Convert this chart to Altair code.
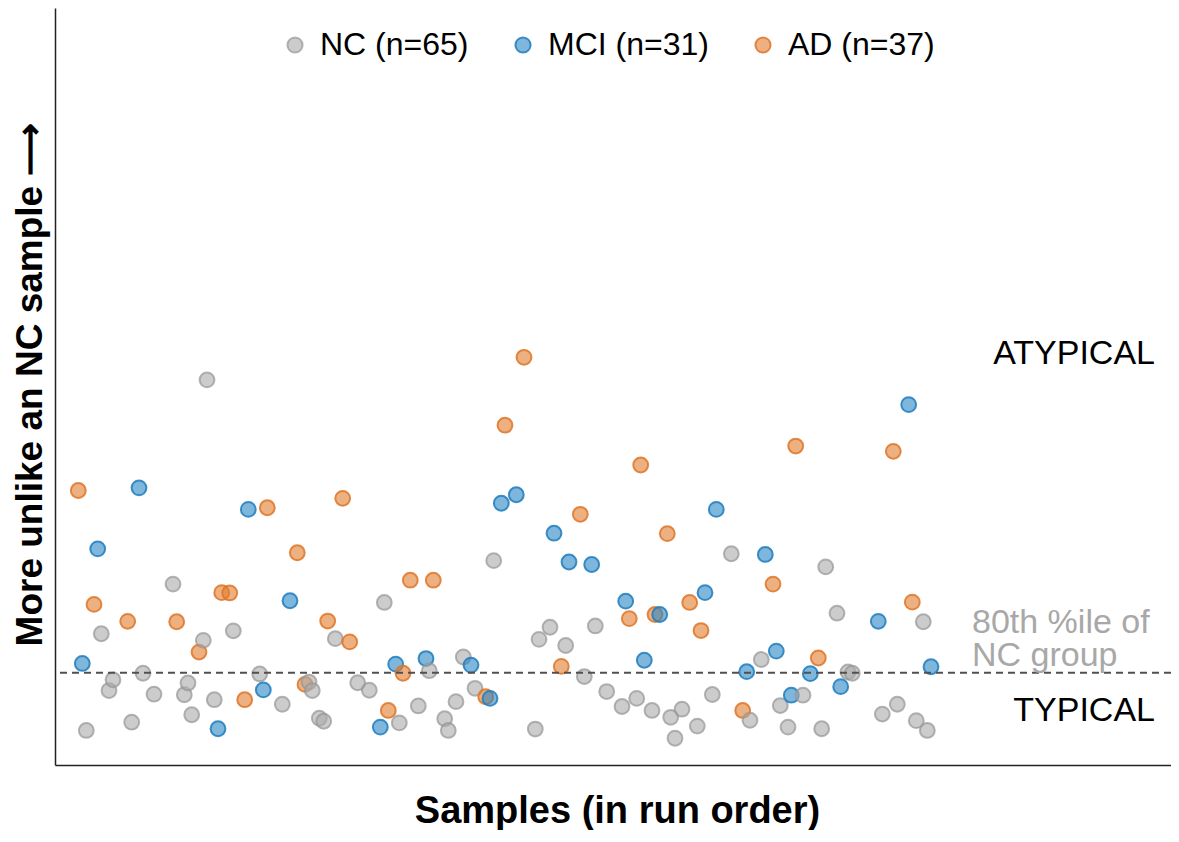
import altair as alt
import pandas as pd

# Groups (legend labels)
groups = ["NC (n=65)", "MCI (n=31)", "AD (n=37)"]
fill_colors = ["rgba(170,170,170,0.6)", "rgba(40,135,195,0.6)", "rgba(225,125,45,0.6)"]
stroke_colors = ["rgba(150,150,150,0.7)", "rgba(30,125,190,0.85)", "rgba(222,118,40,0.85)"]

# Run-order position and atypicality score
nc_x = [3.13, 4.63, 5.40, 5.80, 7.67, 8.80, 9.90, 11.80, 12.93, 13.30, 13.67, 14.83, 15.20,
        15.93, 17.83, 20.47, 22.73, 25.40, 25.73, 26.43, 26.87, 28.03, 30.27, 31.43, 32.93,
        34.43, 36.33, 37.43, 38.97, 39.33, 40.10, 40.83, 42.00, 43.87, 48.03, 48.40, 49.50,
        51.07, 52.93, 54.03, 55.17, 56.70, 58.17, 59.70, 61.57, 62.00, 62.70, 64.23, 65.73,
        67.63, 69.50, 70.63, 72.53, 73.30, 74.80, 76.67, 77.07, 78.20, 79.30, 79.73, 82.73,
        84.23, 86.13, 86.83, 87.23]
nc_y = [0.353, 1.34, 0.76, 0.87, 0.437, 0.937, 0.723, 1.847, 0.717, 0.837, 0.513, 1.273, 3.933,
        0.667, 1.37, 0.93, 0.62, 0.847, 0.76, 0.477, 0.447, 1.29, 0.84, 0.763, 1.66,
        0.43, 0.603, 0.963, 0.473, 0.353, 0.647, 1.103, 0.783, 2.087, 0.367, 1.283, 1.407,
        1.22, 0.903, 1.42, 0.75, 0.597, 0.68, 0.557, 0.487, 0.273, 0.57, 0.397, 0.72,
        2.157, 0.457, 1.077, 0.607, 0.387, 0.713, 0.37, 2.023, 1.55, 0.95, 0.937, 0.52,
        0.62, 0.453, 1.463, 0.353]

mci_x = [2.73, 4.27, 8.40, 16.30, 19.33, 20.83, 23.50, 32.53, 34.07, 37.10, 41.60, 43.50,
         44.63, 46.13, 49.90, 51.40, 53.67, 57.07, 58.93, 60.47, 65.00, 66.13, 69.17, 71.03,
         72.13, 73.63, 75.53, 78.57, 82.33, 85.37, 87.60]
mci_y = [1.037, 2.207, 2.83, 0.37, 2.61, 0.767, 1.677, 0.387, 1.03, 1.087, 1.02, 0.68,
         2.673, 2.76, 2.367, 2.073, 2.047, 1.673, 1.07, 1.537, 1.76, 2.61, 0.953, 2.15,
         1.163, 0.713, 0.933, 0.80, 1.467, 3.68, 1.003]

ad_x = [2.33, 3.90, 7.27, 12.17, 14.40, 16.67, 17.47, 18.97, 21.23, 24.23, 25.00, 27.27,
        28.77, 29.47, 33.33, 34.80, 35.53, 37.83, 43.07, 45.00, 46.90, 50.63, 52.53, 57.43,
        58.57, 60.00, 61.23, 63.47, 64.60, 68.77, 71.80, 74.07, 76.33, 83.83, 85.73]
ad_y = [2.803, 1.64, 1.467, 1.463, 1.153, 1.76, 1.757, 0.667, 2.627, 2.167, 0.823, 1.47,
        2.723, 1.257, 0.557, 0.937, 1.887, 1.887, 0.697, 3.47, 4.163, 1.007, 2.56, 1.495,
        3.063, 1.537, 2.363, 1.66, 1.373, 0.557, 1.847, 3.257, 1.093, 3.203, 1.663]

threshold = [0.943]

ann_text = ["ATYPICAL", "TYPICAL"]
ann_x = [110.0, 110.0]
ann_y = [4.2, 0.55]

pct_text = ["80th %ile of", "NC group"]
pct_x = [91.7, 91.7]
pct_y = [1.45, 1.11]

X_DOMAIN = [0, 111.6]
Y_DOMAIN = [0, 7.73]
FONT = "Liberation Sans"

df = pd.concat([
    pd.DataFrame({"run": nc_x, "score": nc_y, "group": groups[0]}),
    pd.DataFrame({"run": mci_x, "score": mci_y, "group": groups[1]}),
    pd.DataFrame({"run": ad_x, "score": ad_y, "group": groups[2]}),
]).sort_values("run").reset_index(drop=True)
df["order"] = range(len(df))

xs = alt.Scale(domain=X_DOMAIN, nice=False, zero=False)
ys = alt.Scale(domain=Y_DOMAIN, nice=False, zero=False)

legend_cfg = dict(
    title=None, orient="none", direction="horizontal", legendX=224, legendY=21,
    labelFontSize=32, labelFont=FONT, labelColor="black", labelOffset=9, labelLimit=400,
    symbolSize=230, symbolStrokeWidth=2, columnPadding=38, padding=0,
)

points = alt.Chart(df).mark_point(filled=True, size=220, strokeWidth=2, opacity=1).encode(
    x=alt.X("run:Q", scale=xs,
            axis=alt.Axis(title="Samples (in run order)", labels=False, ticks=False, grid=False,
                          domainColor="#222222", domainWidth=1.5,
                          titleFont=FONT, titleFontSize=38, titleFontWeight="bold",
                          titleColor="black", titleBaseline="alphabetic", titleY=57,
                          titleX=562, titleAlign="center")),
    y=alt.Y("score:Q", scale=ys,
            axis=alt.Axis(title="More unlike an NC sample \u27f6", labels=False, ticks=False,
                          grid=False, domainColor="#222222", domainWidth=1.5,
                          titleFont=FONT, titleFontSize=37, titleFontWeight="bold",
                          titleColor="black", titleBaseline="alphabetic", titleX=-14,
                          titleY=376)),
    fill=alt.Fill("group:N", scale=alt.Scale(domain=groups, range=fill_colors),
                  legend=alt.Legend(**legend_cfg)),
    stroke=alt.Stroke("group:N", scale=alt.Scale(domain=groups, range=stroke_colors),
                      legend=alt.Legend(**legend_cfg)),
    order="order:Q",
)

rule = alt.Chart(pd.DataFrame({"t": threshold})).mark_rule(
    color="#505050", strokeWidth=2, strokeDash=[7, 5]
).encode(y=alt.Y("t:Q", scale=ys))

ann = alt.Chart(pd.DataFrame({"x": ann_x, "y": ann_y, "t": ann_text})).mark_text(
    align="right", baseline="middle", font=FONT, fontSize=34, color="black"
).encode(x=alt.X("x:Q", scale=xs), y=alt.Y("y:Q", scale=ys), text="t:N")

pct = alt.Chart(pd.DataFrame({"x": pct_x, "y": pct_y, "t": pct_text})).mark_text(
    align="left", baseline="middle", font=FONT, fontSize=34, color="#a8a8a8"
).encode(x=alt.X("x:Q", scale=xs), y=alt.Y("y:Q", scale=ys), text="t:N")

chart = alt.layer(points, rule, ann, pct).properties(
    width=1116, height=757,
    background="white",
    autosize=alt.AutoSizeParams(type="none"),
    padding={"left": 47, "top": 0, "right": 0, "bottom": 65},
).configure_view(strokeWidth=0).configure_axis(
    grid=False, ticks=False, labels=False
)

chart.save("out.html", embed_options={"renderer": "svg", "actions": False})
